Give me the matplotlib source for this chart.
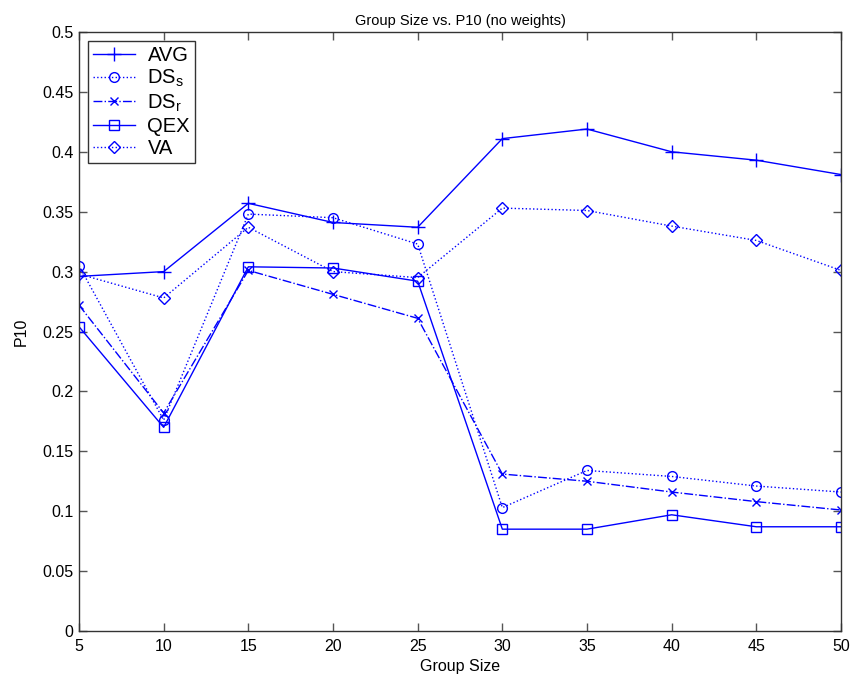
import matplotlib
matplotlib.use("Agg")
import matplotlib.pyplot as plt

plt.rcParams['font.family'] = ['Liberation Sans', 'DejaVu Sans']
plt.rcParams['mathtext.fontset'] = 'custom'
plt.rcParams['mathtext.rm'] = 'Liberation Sans'

group_size = [5, 10, 15, 20, 25, 30, 35, 40, 45, 50]

avg = [0.296, 0.300, 0.357, 0.341, 0.337, 0.411, 0.419, 0.400, 0.393, 0.381]
ds_s = [0.305, 0.176, 0.348, 0.345, 0.323, 0.103, 0.134, 0.129, 0.121, 0.116]
ds_r = [0.272, 0.182, 0.301, 0.281, 0.261, 0.131, 0.125, 0.116, 0.108, 0.101]
qex = [0.254, 0.170, 0.304, 0.303, 0.292, 0.085, 0.085, 0.097, 0.087, 0.087]
va = [0.298, 0.278, 0.337, 0.300, 0.295, 0.353, 0.351, 0.338, 0.326, 0.301]

yticks = [0, 0.05, 0.1, 0.15, 0.2, 0.25, 0.3, 0.35, 0.4, 0.45, 0.5]
ytick_labels = ['0', '0.05', '0.1', '0.15', '0.2', '0.25', '0.3', '0.35', '0.4', '0.45', '0.5']
xticks = [5, 10, 15, 20, 25, 30, 35, 40, 45, 50]

blue = '#0000ff'
fig = plt.figure(figsize=(8.53, 6.82), dpi=100)
ax = fig.add_axes([79 / 853, 51 / 682, 762 / 853, 599 / 682])

common = dict(color=blue, linewidth=1.0, markerfacecolor='none',
              markeredgecolor=blue, markeredgewidth=1.0)
ax.plot(group_size, avg, '-', marker='+', markersize=10, label='AVG', **common)
ax.plot(group_size, ds_s, ':', marker='o', markersize=7, label=r'DS$_\mathrm{s}$', **common)
ax.plot(group_size, ds_r, '-.', marker='x', markersize=6, label=r'DS$_\mathrm{r}$', **common)
ax.plot(group_size, qex, '-', marker='s', markersize=7, label='QEX', **common)
ax.plot(group_size, va, ':', marker='D', markersize=6, label='VA', **common)

ax.set_xlim(5, 50)
ax.set_ylim(0, 0.5)
ax.set_xticks(xticks)
ax.set_xticklabels([str(x) for x in xticks])
ax.set_yticks(yticks)
ax.set_yticklabels(ytick_labels)
ax.tick_params(direction='in', top=True, right=True, length=6, width=1,
               color='#555555', labelsize=11.5)
ax.tick_params(axis='x', pad=6)
ax.tick_params(axis='y', pad=4)
for s in ax.spines.values():
    s.set_color('#333333')
    s.set_linewidth(1.0)

ax.set_title('Group Size vs. P10 (no weights)', fontsize=10.5, pad=5)
ax.set_xlabel('Group Size', fontsize=11.5, labelpad=3)
ax.set_ylabel('P10', fontsize=11.5, labelpad=10)

leg = ax.legend(loc='upper left', fontsize=14.5, handlelength=2.1,
                borderaxespad=0.45, fancybox=False, framealpha=1,
                edgecolor='#333333', labelspacing=0.15, handletextpad=0.6,
                borderpad=0.25)
leg.get_frame().set_linewidth(1.0)

fig.savefig('out.png', dpi=100)
